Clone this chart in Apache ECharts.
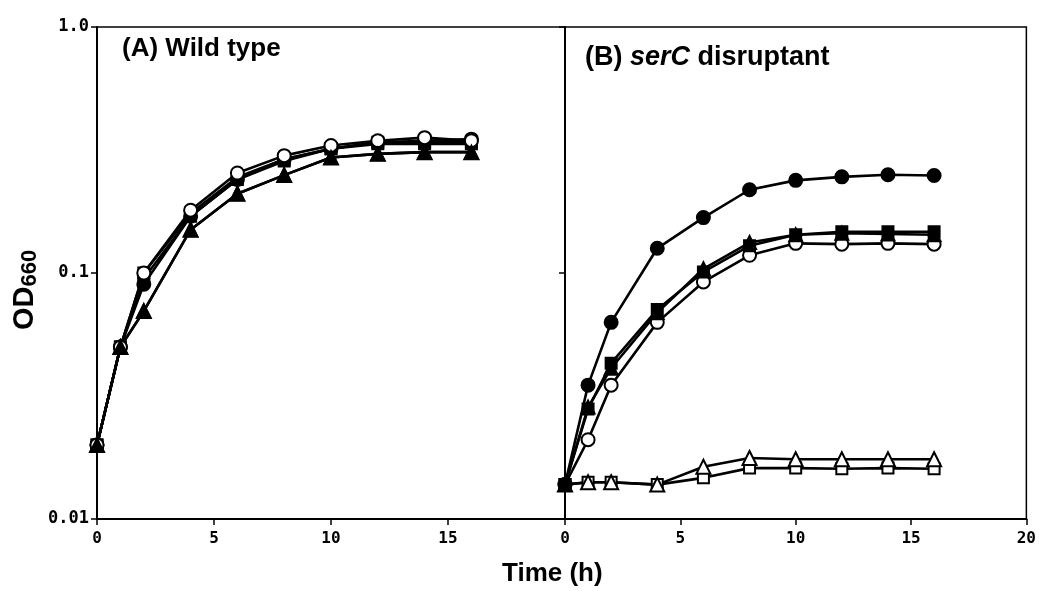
<!DOCTYPE html>
<html>
<head>
<meta charset="utf-8">
<script src="https://cdn.jsdelivr.net/npm/echarts@6/dist/echarts.min.js"></script>
<style>
html,body{margin:0;padding:0;background:#fff;}
#c{width:1039px;height:591px;}
</style>
</head>
<body>
<div id="c"></div>
<script>
// ---- data ----
const time = [0, 1, 2, 4, 6, 8, 10, 12, 14, 16];
const xTicksA = ['0', '5', '10', '15'];
const xTicksB = ['0', '5', '10', '15', '20'];
const yTickLabels = ['0.01', '0.1', '1.0'];

// (A) Wild type
const A_filledCircle   = [0.02, 0.05, 0.09, 0.17, 0.24, 0.29, 0.32, 0.34, 0.345, 0.35];
const A_openCircle     = [0.02, 0.05, 0.10, 0.18, 0.255, 0.30, 0.33, 0.345, 0.355, 0.345];
const A_filledSquare   = [0.02, 0.05, 0.095, 0.17, 0.24, 0.285, 0.32, 0.34, 0.34, 0.34];
const A_openSquare     = [0.02, 0.05, 0.10, 0.175, 0.245, 0.29, 0.32, 0.335, 0.335, 0.335];
const A_openTriangle   = [0.02, 0.05, 0.07, 0.15, 0.21, 0.25, 0.295, 0.305, 0.31, 0.31];
const A_filledTriangle = [0.02, 0.05, 0.07, 0.15, 0.21, 0.25, 0.295, 0.305, 0.31, 0.31];

// (B) serC disruptant
const B_filledCircle   = [0.0138, 0.035, 0.063, 0.126, 0.168, 0.218, 0.238, 0.246, 0.251, 0.249];
const B_filledSquare   = [0.0138, 0.028, 0.043, 0.071, 0.101, 0.129, 0.143, 0.147, 0.147, 0.147];
const B_filledTriangle = [0.0138, 0.0285, 0.041, 0.069, 0.104, 0.133, 0.143, 0.145, 0.144, 0.143];
const B_openCircle     = [0.0138, 0.021, 0.035, 0.063, 0.092, 0.118, 0.132, 0.131, 0.132, 0.131];
const B_openTriangle   = [0.0138, 0.0141, 0.0141, 0.0138, 0.0163, 0.0177, 0.0175, 0.0175, 0.0175, 0.0175];
const B_openSquare     = [0.0138, 0.0141, 0.0141, 0.0138, 0.0147, 0.0161, 0.0161, 0.016, 0.0161, 0.016];

// ---- styles ----
const styles = {
  filledCircle:   {symbol: 'circle',   size: 13, fill: '#000'},
  openCircle:     {symbol: 'circle',   size: 13, fill: '#fff'},
  filledSquare:   {symbol: 'rect',     size: 11, fill: '#000'},
  openSquare:     {symbol: 'rect',     size: 11, fill: '#fff'},
  filledTriangle: {symbol: 'triangle', size: 13, fill: '#000'},
  openTriangle:   {symbol: 'triangle', size: 14, fill: '#fff'}
};

function mk(name, data, key, idx) {
  const s = styles[key];
  return {
    name: name, type: 'line', xAxisIndex: idx, yAxisIndex: idx,
    data: time.map((t, i) => [t, data[i]]),
    symbol: s.symbol, symbolSize: s.size, showSymbol: true,
    lineStyle: {color: '#000', width: 2.6},
    itemStyle: {color: s.fill, borderColor: '#000', borderWidth: 2},
    animation: false, z: 3
  };
}

const tickFont = {color: '#000', fontFamily: 'DejaVu Sans Mono', fontWeight: 'bold', fontSize: 16};

function yAxis(idx, showLabel) {
  return {
    type: 'log', logBase: 10, min: 0.01, max: 1, gridIndex: idx,
    axisLine: {show: true, lineStyle: {color: '#000', width: 2}},
    axisTick: {show: true, inside: false, length: 6, lineStyle: {color: '#000', width: 1.5}},
    minorTick: {show: false},
    splitLine: {show: false},
    axisLabel: {
      show: showLabel, margin: 8, ...tickFont, fontSize: 17,
      formatter: v => yTickLabels[Math.round(Math.log10(v)) + 2]
    }
  };
}

function xAxis(idx, labels) {
  return {
    type: 'value', min: 0, max: 20, interval: 5, gridIndex: idx,
    axisLine: {show: true, lineStyle: {color: '#000', width: 2}},
    axisTick: {show: true, inside: false, length: 6, lineStyle: {color: '#000', width: 1.5}},
    splitLine: {show: false},
    axisLabel: {
      margin: 12, ...tickFont,
      formatter: v => { const i = Math.round(v / 5); return i < labels.length ? labels[i] : ''; }
    }
  };
}

const chart = echarts.init(document.getElementById('c'), null, {renderer: 'canvas'});
chart.setOption({
  backgroundColor: '#fff',
  animation: false,
  grid: [
    {left: 97, top: 27, width: 468, height: 492, show: true, borderColor: '#000', borderWidth: 1.5, backgroundColor: 'transparent'},
    {left: 565, top: 27, width: 465, height: 492, show: true, borderColor: '#000', borderWidth: 1.5, backgroundColor: 'transparent'}
  ],
  xAxis: [xAxis(0, xTicksA), xAxis(1, xTicksB)],
  yAxis: [yAxis(0, true), yAxis(1, false)],
  series: [
    mk('A open triangle', A_openTriangle, 'openTriangle', 0),
    mk('A open square', A_openSquare, 'openSquare', 0),
    mk('A filled square', A_filledSquare, 'filledSquare', 0),
    mk('A filled circle', A_filledCircle, 'filledCircle', 0),
    mk('A open circle', A_openCircle, 'openCircle', 0),
    mk('A filled triangle', A_filledTriangle, 'filledTriangle', 0),
    mk('B open square', B_openSquare, 'openSquare', 1),
    mk('B open triangle', B_openTriangle, 'openTriangle', 1),
    mk('B open circle', B_openCircle, 'openCircle', 1),
    mk('B filled triangle', B_filledTriangle, 'filledTriangle', 1),
    mk('B filled square', B_filledSquare, 'filledSquare', 1),
    mk('B filled circle', B_filledCircle, 'filledCircle', 1)
  ],
  graphic: [
    {type: 'text', left: 122, top: 36, style: {text: '(A) Wild type', fill: '#000',
      font: 'bold 26px "Liberation Sans", Arial, sans-serif'}},
    {type: 'text', left: 585, top: 44, style: {
      text: '{n|(B) }{i|serC}{n| disruptant}', fill: '#000',
      rich: {
        n: {fontFamily: 'Liberation Sans', fontWeight: 'bold', fontSize: 27, fill: '#000'},
        i: {fontFamily: 'Liberation Sans', fontWeight: 'bold', fontStyle: 'italic', fontSize: 27, fill: '#000'}
      }}},
    {type: 'text', left: 502, top: 561, style: {text: 'Time (h)', fill: '#000',
      font: 'bold 26px "Liberation Sans", Arial, sans-serif'}},
    {type: 'text', x: 9, y: 330, rotation: Math.PI / 2, style: {
      text: '{a|OD}{b|660}', fill: '#000',
      rich: {
        a: {fontFamily: 'Liberation Sans', fontWeight: 'bold', fontSize: 29, fill: '#000'},
        b: {fontFamily: 'Liberation Sans', fontWeight: 'bold', fontSize: 22, fill: '#000', padding: [10, 0, 0, 0]}
      }}}
  ]
});
</script>
</body>
</html>
